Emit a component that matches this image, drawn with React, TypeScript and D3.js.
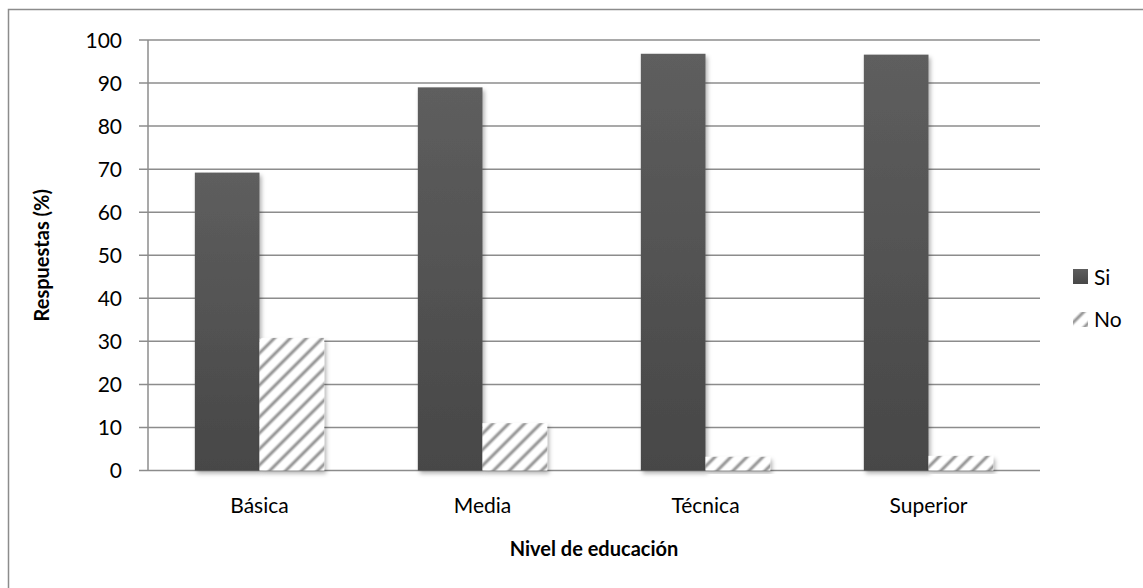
import React from "react";
import * as d3 from "d3";

const categories = ["Básica", "Media", "Técnica", "Superior"];
const seriesNames = ["Si", "No"];
const siValues = [69.2, 89, 96.8, 96.6];
const noValues = [30.8, 11, 3.2, 3.4];
const yTicks = [0, 10, 20, 30, 40, 50, 60, 70, 80, 90, 100];

const W = 1143;
const H = 588;
const plot = { left: 148, right: 1040, top: 40, bottom: 470.5 };
const font = "Lato, 'Open Sans', 'Noto Sans', sans-serif";
const labelSize = 21;
const titleSize = 20;

export default function App() {
  const x = d3
    .scaleBand<string>()
    .domain(categories)
    .range([plot.left, plot.right])
    .paddingInner(0.42)
    .paddingOuter(0.21);
  const sub = d3.scaleBand<string>().domain(seriesNames).range([0, x.bandwidth()]);
  const y = d3.scaleLinear().domain([0, 100]).range([plot.bottom, plot.top]);

  const series = [
    { name: "Si", values: siValues, fill: "url(#siGrad)" },
    { name: "No", values: noValues, fill: "url(#hatch)" },
  ];

  return (
    <svg
      width={W}
      height={H}
      style={{ position: "absolute", left: 0, top: 0, background: "#fff" }}
      fontFamily={font}
    >
      <defs>
        <linearGradient id="siGrad" x1="0" y1="0" x2="0" y2="1">
          <stop offset="0" stopColor="#5e5e5e" />
          <stop offset="1" stopColor="#474747" />
        </linearGradient>
        <linearGradient id="stripe" x1="0" y1="0" x2="1" y2="0">
          <stop offset="0" stopColor="#ffffff" />
          <stop offset="0.5" stopColor="#888888" />
          <stop offset="1" stopColor="#ffffff" />
        </linearGradient>
        <pattern
          id="hatch"
          patternUnits="userSpaceOnUse"
          width={11.3}
          height={11.3}
          patternTransform="rotate(45)"
        >
          <rect width={11.3} height={11.3} fill="#ffffff" />
          <rect x={1} width={5.5} height={11.3} fill="url(#stripe)" />
        </pattern>
        <filter id="shadow" x="-10%" y="-10%" width="130%" height="130%">
          <feDropShadow dx={2} dy={3} stdDeviation={2} floodColor="#000" floodOpacity={0.3} />
        </filter>
      </defs>

      {/* outer chart frame */}
      <rect x={8.5} y={9.5} width={1140} height={600} fill="none" stroke="#8c8c8c" strokeWidth={1.5} />

      {/* gridlines and y ticks */}
      {yTicks.map((t) => (
        <g key={t}>
          <line x1={plot.left - 9} x2={plot.right} y1={y(t)} y2={y(t)} stroke="#8c8c8c" strokeWidth={1.5} />
          <text x={122} y={y(t)} dy="0.36em" textAnchor="end" fontSize={labelSize} fill="#000">
            {t}
          </text>
        </g>
      ))}
      <line x1={plot.left} x2={plot.left} y1={plot.top} y2={plot.bottom} stroke="#8c8c8c" strokeWidth={1.5} />

      {/* bars */}
      {categories.map((c, i) => (
        <g key={c}>
          {series.map((s) => (
            <rect
              key={s.name}
              x={(x(c) as number) + (sub(s.name) as number)}
              y={y(s.values[i])}
              width={sub.bandwidth()}
              height={plot.bottom - y(s.values[i])}
              fill={s.fill}
              filter="url(#shadow)"
            />
          ))}
          <text
            x={(x(c) as number) + x.bandwidth() / 2}
            y={505}
            dy="0.36em"
            textAnchor="middle"
            fontSize={labelSize}
            fill="#000"
          >
            {c}
          </text>
        </g>
      ))}

      {/* axis titles */}
      <text x={594} y={549} dy="0.36em" textAnchor="middle" fontSize={titleSize} fontWeight="bold" fill="#000">
        Nivel de educación
      </text>
      <text
        transform={`translate(42,${(plot.top + plot.bottom) / 2}) rotate(-90)`}
        dy="0.36em"
        textAnchor="middle"
        fontSize={titleSize}
        fontWeight="bold"
        fill="#000"
      >
        Respuestas (%)
      </text>

      {/* legend */}
      <rect x={1073} y={269} width={15} height={15} fill="url(#siGrad)" />
      <text x={1094} y={277} dy="0.36em" fontSize={labelSize} fill="#000">
        Si
      </text>
      <rect x={1073} y={312} width={15} height={15} fill="url(#hatch)" />
      <text x={1094} y={319} dy="0.36em" fontSize={labelSize} fill="#000">
        No
      </text>
    </svg>
  );
}
